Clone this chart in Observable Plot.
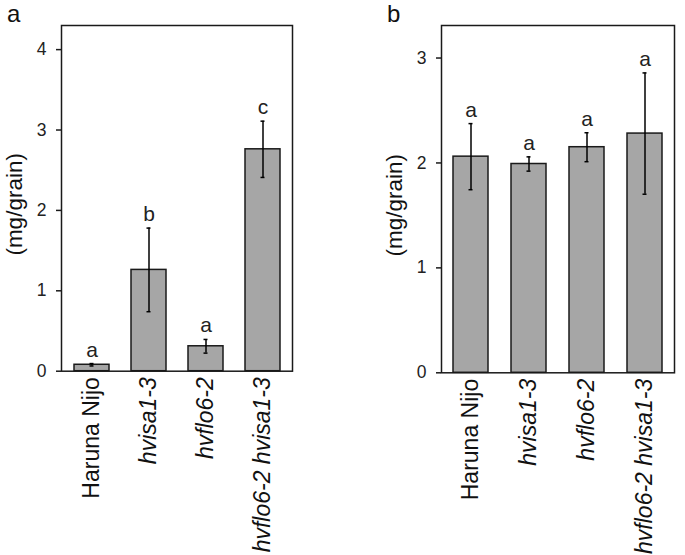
<!DOCTYPE html>
<html>
<head>
<meta charset="utf-8">
<script src="https://cdn.jsdelivr.net/npm/d3@7"></script>
<script src="https://cdn.jsdelivr.net/npm/@observablehq/plot@0.6"></script>
<style>
  html, body { margin: 0; padding: 0; background: #fff; }
  #wrap { position: relative; width: 685px; height: 555px; font-family: "Liberation Sans", Arial, sans-serif; }
  .panel { position: absolute; top: 0; }
  .letter { position: absolute; top: 2px; font-size: 24px; line-height: 24px; color: #111; }
</style>
</head>
<body>
<div id="wrap">
  <div class="letter" style="left:7px;">a</div>
  <div class="letter" style="left:387px;">b</div>
  <div id="pa" class="panel" style="left:0px;"></div>
  <div id="pb" class="panel" style="left:340px;"></div>
</div>
<script>
const categories = ["Haruna Nijo", "hvisa1-3", "hvflo6-2", "hvflo6-2 hvisa1-3"];
const meanA = [0.08, 1.26, 0.31, 2.76];
const errA = [0.015, 0.52, 0.085, 0.35];
const lettersA = ["a", "b", "a", "c"];
const meanB = [2.06, 1.99, 2.15, 2.28];
const errB = [0.315, 0.068, 0.138, 0.578];
const lettersB = ["a", "a", "a", "a"];
const ticksA = [0, 1, 2, 3, 4];
const ticksB = [0, 1, 2, 3];
const yLabel = "(mg/grain)";

const FONT = "Liberation Sans, Arial, sans-serif";
const INK = "#1a1a1a";

function panel({means, errs, letters, ticks, yMax, width, marginLeft, marginRight, marginBottom}) {
  const data = categories.map((c, i) => ({cat: c, mean: means[i], err: errs[i], letter: letters[i]}));
  return Plot.plot({
    width, height: 555,
    marginLeft, marginRight, marginTop: 25, marginBottom,
    style: {fontFamily: FONT, color: INK, background: "transparent"},
    x: {domain: categories, paddingInner: 0.39, paddingOuter: 0.195, axis: null},
    y: {domain: [0, yMax], axis: null},
    marks: [
      Plot.barY(data, {x: "cat", y: "mean", fill: "#a6a6a6", stroke: INK, strokeWidth: 1.5}),
      Plot.ruleX(data, {x: "cat", y1: d => d.mean - d.err, y2: d => d.mean + d.err, stroke: "#000", strokeWidth: 1.5}),
      Plot.tickY(data, {x: "cat", y: d => d.mean + d.err, stroke: "#000", strokeWidth: 1.5, insetLeft: 15.5, insetRight: 15.5}),
      Plot.tickY(data, {x: "cat", y: d => d.mean - d.err, stroke: "#000", strokeWidth: 1.5, insetLeft: 15.5, insetRight: 15.5}),
      Plot.text(data, {x: "cat", y: d => d.mean + d.err, text: "letter", lineAnchor: "bottom", dy: -7, fontSize: 21, fill: "#222"}),
      Plot.axisY({ticks, tickFormat: d => String(d), tickSize: 5, tickPadding: 10, fontSize: 17.5, label: null, stroke: INK, strokeWidth: 1.5, fill: "#222"}),
      Plot.axisX(categories.filter(c => !c.startsWith("hv")), {tickRotate: -90, tickSize: 0, tickPadding: 6, fontSize: 23, label: null, fill: "#111"}),
      Plot.axisX(categories.filter(c => c.startsWith("hv")), {tickRotate: -90, tickSize: 0, tickPadding: 6, fontSize: 23, fontStyle: "italic", label: null, fill: "#111"}),
      Plot.text([yLabel], {frameAnchor: "left", textAnchor: "middle", lineAnchor: "middle", rotate: -90, dx: -47, dy: 6, fontSize: 22.5, fill: "#111"}),
      Plot.frame({stroke: INK, strokeWidth: 1.5})
    ]
  });
}

document.getElementById("pa").appendChild(panel({
  means: meanA, errs: errA, letters: lettersA, ticks: ticksA, yMax: 4.3,
  width: 340, marginLeft: 61, marginRight: 48, marginBottom: 184.3
}));
document.getElementById("pb").appendChild(panel({
  means: meanB, errs: errB, letters: lettersB, ticks: ticksB, yMax: 3.31,
  width: 345, marginLeft: 101, marginRight: 11, marginBottom: 182.7
}));
</script>
</body>
</html>
